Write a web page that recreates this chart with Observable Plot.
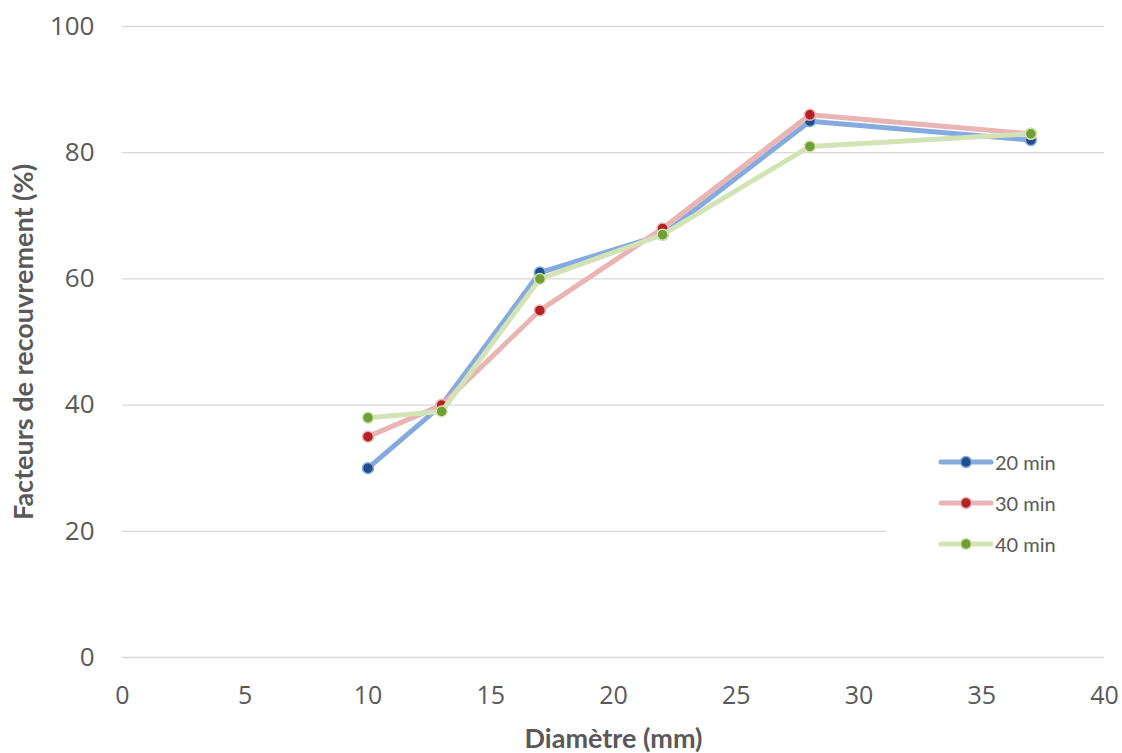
<!DOCTYPE html>
<html>
<head>
<meta charset="utf-8">
<script src="https://cdn.jsdelivr.net/npm/d3@7"></script>
<script src="https://cdn.jsdelivr.net/npm/@observablehq/plot@0.6"></script>
<style>
  html, body { margin: 0; padding: 0; background: #fff; }
  #wrap { position: relative; width: 1122px; height: 753px; }
  #legend { position: absolute; left: 886px; top: 428px; width: 218px; height: 150px; background: #fff;
    font-family: Lato, "Open Sans", sans-serif; font-size: 20px; color: #595959; }
  .item { position: absolute; left: 52px; height: 22px; }
  .item svg { position: absolute; left: 0; top: 1px; }
  .item span { position: absolute; left: 57px; top: 0; line-height: 22px; white-space: nowrap; }
</style>
</head>
<body>
<div id="wrap"><div id="legend"></div></div>
<script>
const diameters = [10, 13, 17, 22, 28, 37];
const series = ["20 min", "30 min", "40 min"];
const values20 = [30, 40, 61, 67, 85, 82];
const values30 = [35, 40, 55, 68, 86, 83];
const values40 = [38, 39, 60, 67, 81, 83];
const xTicks = [0, 5, 10, 15, 20, 25, 30, 35, 40];
const yTicks = [0, 20, 40, 60, 80, 100];
const lineColors = ["#85aade", "#e8b4b4", "#d3e3b6"];
const dotColors = ["#1f4e8c", "#b32025", "#70a033"];

const allValues = [values20, values30, values40];
const rows = series.flatMap((s, i) => diameters.map((d, j) => ({series: s, d, v: allValues[i][j], idx: i})));

const marks = [
  Plot.gridY(yTicks.slice(1), {stroke: "#d9d9d9", strokeOpacity: 1, strokeWidth: 1.3}),
  Plot.ruleY([0], {stroke: "#d9d9d9", strokeWidth: 1.5}),
  Plot.axisY(yTicks, {tickSize: 0, tickPadding: 28, fontSize: 26, fontFamily: "'Open Sans', sans-serif", fill: "#595959", label: null}),
  Plot.axisX(xTicks, {tickSize: 0, tickPadding: 29, fontSize: 25, fontFamily: "'Open Sans', sans-serif", fill: "#595959", label: null}),
  Plot.text(["Diamètre (mm)"], {frameAnchor: "bottom", dy: 90, fontSize: 27, fontWeight: "bold", fontFamily: "Lato, sans-serif", fill: "#595959"}),
  Plot.text(["Facteurs de recouvrement (%)"], {frameAnchor: "left", textAnchor: "middle", dx: -98, rotate: -90, fontSize: 27, fontWeight: "bold", fontFamily: "Lato, sans-serif", fill: "#595959"})
];
series.forEach((s, i) => {
  const data = rows.filter(r => r.series === s);
  marks.push(Plot.line(data, {x: "d", y: "v", stroke: lineColors[i], strokeWidth: 5, strokeLinejoin: "round", strokeLinecap: "round"}));
  marks.push(Plot.dot(data, {x: "d", y: "v", r: 5.5, fill: dotColors[i], stroke: lineColors[i], strokeWidth: 1.5}));
});

const chart = Plot.plot({
  width: 1122,
  height: 753,
  marginLeft: 122,
  marginRight: 18,
  marginTop: 26,
  marginBottom: 96,
  x: {domain: [0, 40]},
  y: {domain: [0, 100]},
  style: {background: "#fff"},
  marks
});
const wrap = document.getElementById("wrap");
wrap.insertBefore(chart, wrap.firstChild);

const legend = document.getElementById("legend");
series.forEach((s, i) => {
  const item = document.createElement("div");
  item.className = "item";
  item.style.top = (23 + i * 41) + "px";
  item.innerHTML = `<svg width="56" height="20"><line x1="3" y1="10" x2="53" y2="10" stroke="${lineColors[i]}" stroke-width="5" stroke-linecap="round"/><circle cx="28" cy="10" r="5.5" fill="${dotColors[i]}" stroke="${lineColors[i]}" stroke-width="1.5"/></svg><span>${s}</span>`;
  legend.appendChild(item);
});
</script>
</body>
</html>
